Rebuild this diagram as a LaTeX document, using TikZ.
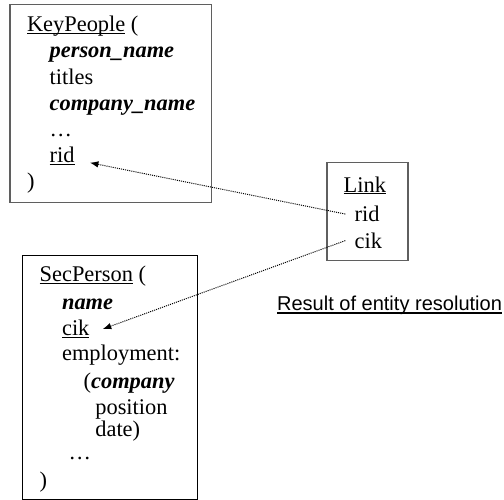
\documentclass[tikz,border=0pt]{standalone}
\usepackage{fontspec}
\setmainfont{Liberation Serif}
\setsansfont{Liberation Sans}
\usetikzlibrary{arrows.meta,positioning}
\definecolor{frame}{RGB}{95,95,95}
\newcommand{\ulword}[2][1.5pt]{\leavevmode\setbox0\hbox{#2}\rlap{\rule[-#1]{\wd0}{0.6pt}}\box0\relax}
\tikzset{
  >={Latex[length=1.7mm,width=1.3mm]},
  box/.style={draw=#1,line width=0.6pt,inner sep=0pt},
  box/.default=black,
  field/.style={anchor=base west,inner sep=0pt,font=\fontsize{12.75}{15}\selectfont},
  note/.style={anchor=base west,inner sep=0pt,font=\fontsize{11.4}{14}\selectfont\sffamily},
  match/.style={->,line width=0.55pt,dash pattern=on 0.6pt off 0.6pt},
}
\begin{document}
\begin{tikzpicture}[x=0.2mm,y=-0.2mm]
        \useasboundingbox (0,0) rectangle (504,500);
        % the three tables
        \node[box=frame,line width=0.8pt,minimum width=40.3mm,minimum height=39.6mm] (kp) at (110.9,103.7) {};
        \node[box=frame,line width=0.7pt,minimum width=16.2mm,minimum height=19.6mm] (lk) at (367.5,211.3) {};
        \node[box,minimum width=35mm,minimum height=48.7mm] (sp) at (109.8,377.4) {};
        \node[field] (kphead) at (26.7,31.7) {\ulword{KeyPeople} (};
        \foreach \n/\y/\txt in {name/57.9/{\textbf{\textit{person\_name}}},titles/84.1/{titles},
          comp/110.3/{\textbf{\textit{company\_name}}},dots/136.5/{…},rid/162.7/{\ulword{rid}}}
          \node[field] (kp\n) at (49.3,\y) {\txt};
        \node[field] (kpend) at (26.7,188.9) {)};
        \node[field] (sphead) at (39.3,281.7) {\ulword{SecPerson} (};
        \foreach \n/\x/\y/\txt in {name/61.7/309.3/{\textbf{\textit{name}}},cik/61.7/335.5/{\ulword{cik}},
          emp/61.7/360/{employment:},comp/83.3/388/{(\textbf{\textit{company}}},pos/95/414/{position},
          date/95/436/{date)},dots/68.3/459/{…}}
          \node[field] (sp\n) at (\x,\y) {\txt};
        \node[field] (spend) at (39.3,487) {)};
        \node[field] (lkhead) at (343.3,192.3) {\ulword[1.2pt]{Link}};
        \node[field] (lkrid) at (354.3,221.7) {rid};
        \node[field] (lkcik) at (354.3,248.3) {cik};
        \node[note] (res) at (276.7,310) {\ulword[2pt]{Result of entity resolution}};
        % matches
        \draw[match] ([xshift=-1.8mm]lkrid.west) -- ([xshift=3mm]kprid.base east);
        \draw[match] ([xshift=-1.8mm]lkcik.west) -- ([xshift=2.6mm]spcik.east);
\end{tikzpicture}
\end{document}
